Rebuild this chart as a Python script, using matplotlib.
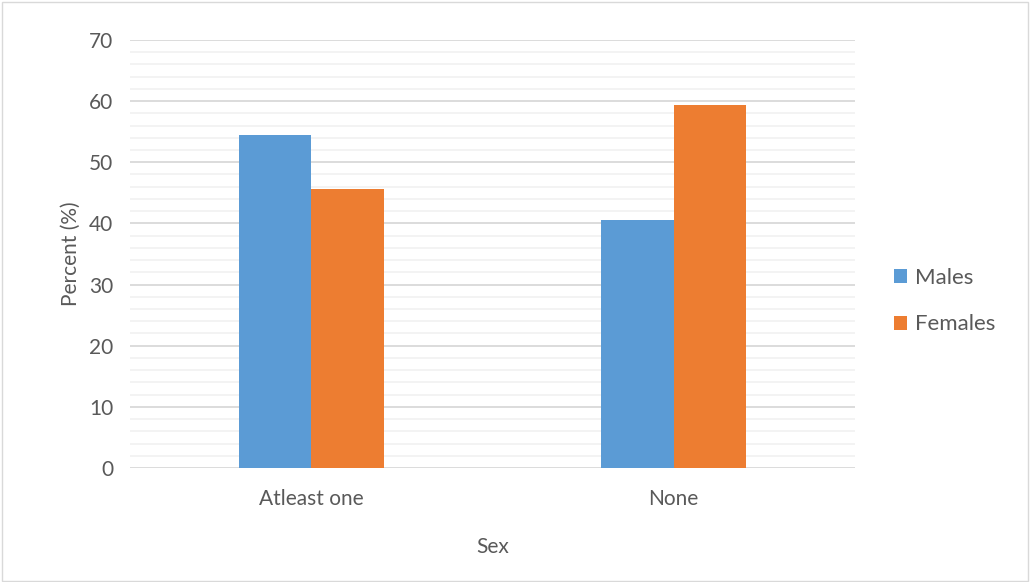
import matplotlib
matplotlib.use("Agg")
import matplotlib.pyplot as plt
import numpy as np
from matplotlib.ticker import MultipleLocator
from matplotlib.patches import Rectangle

categories = ["Atleast one", "None"]
males = [54.5, 40.5]
females = [45.6, 59.4]

plt.rcParams['font.family'] = ['Lato', 'DejaVu Sans']
txt = "#595959"

fig = plt.figure(figsize=(10.3, 5.82), dpi=100)
ax = fig.add_axes([0.1262, 0.1959, 0.7039, 0.7354])

x = np.arange(len(categories))
w = 0.2
ax.bar(x - w / 2, males, w, color="#5b9bd5", label="Males", zorder=3)
ax.bar(x + w / 2, females, w, color="#ed7d31", label="Females", zorder=3)

ax.set_xlim(-0.5, 1.5)
ax.set_ylim(0, 70)
ax.yaxis.set_major_locator(MultipleLocator(10))
ax.yaxis.set_minor_locator(MultipleLocator(2))
ax.grid(which="major", axis="y", color="#d9d9d9", linewidth=1.3, zorder=0)
ax.grid(which="minor", axis="y", color="#f0f0f0", linewidth=1.1, zorder=0)
ax.set_xticks(x)
ax.set_xticklabels(categories)
ax.tick_params(which="both", length=0, labelsize=15, colors=txt)
ax.tick_params(axis="x", pad=15)
ax.tick_params(axis="y", pad=12)
for s in ax.spines.values():
    s.set_visible(False)

ax.set_ylabel("Percent (%)", fontsize=15, color=txt, labelpad=6)
ax.set_xlabel("Sex", fontsize=15, color=txt, labelpad=20)

ax.legend(loc="center left", bbox_to_anchor=(1.026, 0.39), frameon=False,
          fontsize=16, labelcolor=txt, handlelength=0.6, handleheight=0.6,
          labelspacing=1.2, handletextpad=0.35)

fig.patches.append(Rectangle((0.002, 0.002), 0.996, 0.994, transform=fig.transFigure,
                             fill=False, edgecolor="#d9d9d9", linewidth=1))

fig.savefig("out.png", dpi=100)
